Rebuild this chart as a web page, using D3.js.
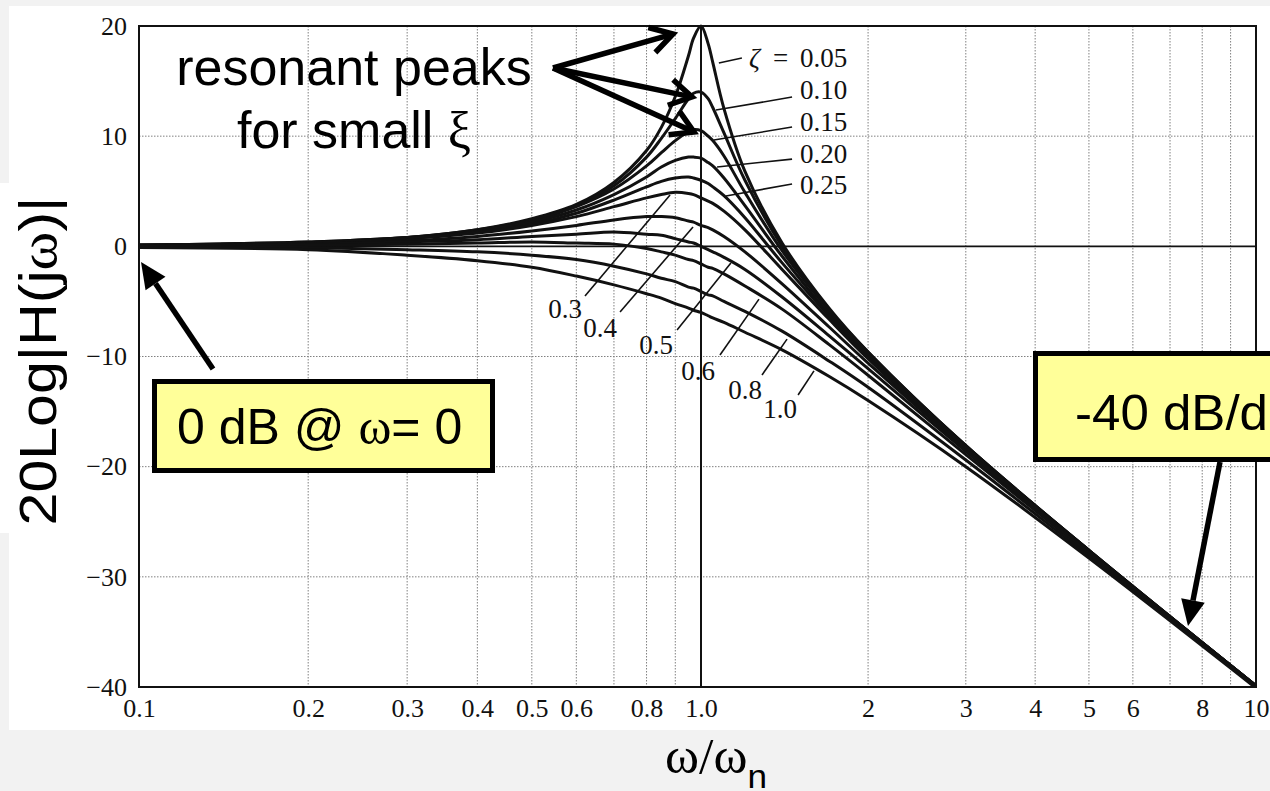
<!DOCTYPE html>
<html>
<head>
<meta charset="utf-8">
<script src="https://cdn.jsdelivr.net/npm/d3@7"></script>
<style>
  html, body { margin: 0; padding: 0; background: #f2f2f2; }
  svg { display: block; }
</style>
</head>
<body>
<svg id="chart"></svg>
<script>
// frequency ratio w/wn where the curves were read
const freqs = [0.1, 0.2, 0.3, 0.4, 0.5, 0.6, 0.7, 0.8, 0.85, 0.9, 0.95, 0.97, 1.0, 1.03, 1.05, 1.1, 1.2, 1.4, 1.7, 2, 3, 5, 10];

// magnitude in dB for each damping ratio
const z005 = [0.1, 0.4, 0.8, 1.5, 2.5, 3.8, 5.8, 8.7, 10.8, 13.6, 17.3, 18.9, 20.0, 18.4, 16.7, 12.5, 6.8, 0.3, -5.6, -9.6, -18.1, -27.6, -39.9];
const z010 = [0.1, 0.4, 0.8, 1.5, 2.4, 3.7, 5.5, 8.1, 9.8, 11.6, 13.4, 13.9, 14.0, 13.4, 12.6, 10.3, 6.0, 0.0, -5.7, -9.6, -18.1, -27.6, -39.9];
const z015 = [0.1, 0.3, 0.8, 1.4, 2.3, 3.6, 5.2, 7.3, 8.5, 9.6, 10.4, 10.6, 10.5, 10.0, 9.6, 8.2, 4.9, -0.4, -5.8, -9.7, -18.1, -27.6, -39.9];
const z020 = [0.1, 0.3, 0.7, 1.4, 2.2, 3.3, 4.7, 6.3, 7.2, 7.8, 8.1, 8.1, 8.0, 7.6, 7.3, 6.2, 3.7, -0.9, -6.1, -9.8, -18.2, -27.6, -39.9];
const z025 = [0.1, 0.3, 0.7, 1.3, 2.0, 3.0, 4.2, 5.4, 5.9, 6.2, 6.3, 6.2, 6.0, 5.7, 5.4, 4.6, 2.6, -1.5, -6.3, -10.0, -18.2, -27.7, -39.9];
const z030 = [0.1, 0.3, 0.7, 1.2, 1.9, 2.7, 3.6, 4.4, 4.7, 4.9, 4.8, 4.7, 4.4, 4.1, 3.9, 3.2, 1.5, -2.1, -6.6, -10.2, -18.3, -27.7, -39.9];
const z040 = [0.1, 0.2, 0.5, 0.9, 1.4, 1.9, 2.4, 2.7, 2.7, 2.6, 2.3, 2.2, 1.9, 1.7, 1.5, 0.9, -0.5, -3.4, -7.3, -10.6, -18.4, -27.7, -39.9];
const z050 = [0.0, 0.2, 0.4, 0.6, 0.9, 1.1, 1.3, 1.1, 1.0, 0.7, 0.4, 0.3, 0.0, -0.3, -0.5, -1.0, -2.1, -4.6, -8.1, -11.1, -18.6, -27.8, -40.0];
const z060 = [0.0, 0.1, 0.2, 0.3, 0.4, 0.3, 0.2, -0.2, -0.5, -0.8, -1.2, -1.3, -1.6, -1.9, -2.0, -2.5, -3.6, -5.7, -8.9, -11.7, -18.9, -27.9, -40.0];
const z080 = [0.0, -0.1, -0.3, -0.5, -0.8, -1.2, -1.8, -2.5, -2.9, -3.2, -3.7, -3.8, -4.1, -4.4, -4.5, -5.0, -5.9, -7.7, -10.4, -12.8, -19.4, -28.1, -40.0];
const z100 = [-0.1, -0.3, -0.8, -1.3, -1.9, -2.7, -3.5, -4.3, -4.7, -5.2, -5.6, -5.8, -6.0, -6.3, -6.5, -6.9, -7.8, -9.4, -11.8, -14.0, -20.0, -28.3, -40.1];

const curves = [z005, z010, z015, z020, z025, z030, z040, z050, z060, z080, z100];

const xTicks = [0.1, 0.2, 0.3, 0.4, 0.5, 0.6, 0.8, 1, 2, 3, 4, 5, 6, 8, 10];
const xTickLabels = ["0.1", "0.2", "0.3", "0.4", "0.5", "0.6", "0.8", "1.0", "2", "3", "4", "5", "6", "8", "10"];
const xGrid = [0.2, 0.3, 0.4, 0.5, 0.6, 0.7, 0.8, 0.9, 2, 3, 4, 5, 6, 7, 8, 9];
const yTicks = [20, 10, 0, -10, -20, -30, -40];
const yGrid = [10, -10, -20, -30];

// damping labels: leader line [w1, dB1, w2, dB2] and text spot [w, dB] in chart units
const upperLabels = [
  { text: "0.05", zeta: true, line: [1.077, 16.64, 1.185, 17.09], at: [1.508, 16.27] },
  { text: "0.10", line: [1.064, 12.37, 1.459, 13.55], at: [1.508, 13.37] },
  { text: "0.15", line: [1.055, 9.65, 1.459, 10.83], at: [1.508, 10.46] },
  { text: "0.20", line: [1.069, 7.20, 1.459, 7.92], at: [1.508, 7.56] },
  { text: "0.25", line: [1.109, 4.57, 1.459, 5.66], at: [1.508, 4.75] }
];
const lowerLabels = [
  { text: "0.3", line: [0.6217, -4.51, 0.8809, 4.66], at: [0.6142, -6.51] },
  { text: "0.4", line: [0.7177, -5.96, 0.9678, 1.75], at: [0.7088, -8.23] },
  { text: "0.5", line: [0.9065, -7.60, 1.132, -1.52], at: [0.8917, -9.78] },
  { text: "0.6", line: [1.082, -9.87, 1.272, -4.79], at: [1.060, -12.14] },
  { text: "0.8", line: [1.288, -11.68, 1.429, -8.42], at: [1.288, -13.86] },
  { text: "1.0", line: [1.496, -13.49, 1.598, -11.31], at: [1.489, -15.58] }
];

const W = 1270, H = 791;
const SERIF = '"Liberation Serif", "Times New Roman", serif';
const SANS = '"Liberation Sans", Arial, sans-serif';

const svg = d3.select("#chart").attr("width", W).attr("height", H);

// scanned page area
svg.append("rect").attr("x", 9).attr("y", 6).attr("width", W - 9).attr("height", 724).attr("fill", "#fff");
svg.append("rect").attr("x", 0).attr("y", 183).attr("width", 10).attr("height", 350).attr("fill", "#fff");

const x = d3.scaleLog().domain([0.1, 1, 10]).range([139, 701, 1256]);
const y = d3.scaleLinear().domain([-40, 20]).range([687, 26]);

// grid
const grid = svg.append("g").attr("stroke", "#808080").attr("stroke-width", 1).attr("stroke-dasharray", "1.5,1.5");
grid.selectAll(".vg").data(xGrid).enter().append("line")
  .attr("x1", d => x(d)).attr("x2", d => x(d))
  .attr("y1", y(20)).attr("y2", y(-40));
grid.selectAll(".hg").data(yGrid).enter().append("line")
  .attr("x1", x(0.1)).attr("x2", x(10))
  .attr("y1", d => y(d)).attr("y2", d => y(d));

svg.append("line").attr("x1", x(0.1)).attr("x2", x(10)).attr("y1", y(0)).attr("y2", y(0))
  .attr("stroke", "#111").attr("stroke-width", 1.6);
svg.append("line").attr("x1", x(1)).attr("x2", x(1)).attr("y1", y(20)).attr("y2", y(-40))
  .attr("stroke", "#111").attr("stroke-width", 2);

svg.append("clipPath").attr("id", "plot").append("rect")
  .attr("x", x(0.1)).attr("y", y(20) - 2).attr("width", x(10) - x(0.1)).attr("height", y(-40) - y(20) + 2);

const line = d3.line()
  .x((d, i) => x(freqs[i]))
  .y(d => y(d))
  .curve(d3.curveCatmullRom.alpha(0.5));

svg.append("g").attr("clip-path", "url(#plot)")
  .selectAll("path").data(curves).enter().append("path")
  .attr("d", line)
  .attr("fill", "none")
  .attr("stroke", "#111")
  .attr("stroke-width", 3);

svg.append("rect").attr("x", x(0.1)).attr("y", y(20))
  .attr("width", x(10) - x(0.1)).attr("height", y(-40) - y(20))
  .attr("fill", "none").attr("stroke", "#111").attr("stroke-width", 2);

// axes
const xAxis = svg.append("g").attr("transform", `translate(0,${y(-40)})`)
  .call(d3.axisBottom(x).tickValues(xTicks).tickFormat((d, i) => xTickLabels[i]).tickSize(0).tickPadding(12));
const yAxis = svg.append("g").attr("transform", `translate(${x(0.1)},0)`)
  .call(d3.axisLeft(y).tickValues(yTicks).tickFormat(d => d < 0 ? "\u2212" + (-d) : d).tickSize(0).tickPadding(12));
[xAxis, yAxis].forEach(g => {
  g.select(".domain").remove();
  g.attr("font-family", SERIF).attr("font-size", 26);
  g.selectAll("text").attr("fill", "#111");
});

// damping ratio labels
const lab = svg.append("g").attr("font-family", SERIF).attr("font-size", 27).attr("fill", "#111");
upperLabels.concat(lowerLabels).forEach(l => {
  lab.append("line")
    .attr("x1", x(l.line[0])).attr("y1", y(l.line[1]))
    .attr("x2", x(l.line[2])).attr("y2", y(l.line[3]))
    .attr("stroke", "#111").attr("stroke-width", 1.6);
});
upperLabels.forEach(l => {
  const t = lab.append("text").attr("x", x(l.at[0])).attr("y", y(l.at[1])).text(l.text);
  if (l.zeta) {
    lab.append("text").attr("x", x(l.at[0]) - 51).attr("y", y(l.at[1]))
      .attr("font-style", "italic").text("\u03b6");
    lab.append("text").attr("x", x(l.at[0]) - 27).attr("y", y(l.at[1]))
      .text("=");
  }
});
lowerLabels.forEach(l => {
  lab.append("text").attr("x", x(l.at[0])).attr("y", y(l.at[1]))
    .attr("text-anchor", "end").text(l.text);
});

// annotations
function arrow(x1, y1, x2, y2, open) {
  const a = Math.atan2(y2 - y1, x2 - x1);
  const len = open ? 22 : 26, hw = open ? 13 : 12;
  const bx = x2 - len * Math.cos(a), by = y2 - len * Math.sin(a);
  const px = -Math.sin(a) * hw, py = Math.cos(a) * hw;
  const g = svg.append("g").attr("stroke", "#000").attr("stroke-width", 5.5).attr("fill", "#000");
  if (open) {
    g.append("line").attr("x1", x1).attr("y1", y1).attr("x2", x2 - 3 * Math.cos(a)).attr("y2", y2 - 3 * Math.sin(a));
    g.append("polyline").attr("fill", "none").attr("stroke-linejoin", "miter")
      .attr("points", [[bx + px, by + py], [x2, y2], [bx - px, by - py]].map(p => p.join(",")).join(" "));
  } else {
    g.append("line").attr("x1", x1).attr("y1", y1).attr("x2", bx).attr("y2", by);
    g.append("polygon").attr("stroke", "none")
      .attr("points", [[bx + px, by + py], [x2, y2], [bx - px, by - py]].map(p => p.join(",")).join(" "));
  }
}

const note = svg.append("g").attr("font-family", SANS).attr("fill", "#000");
note.append("text").attr("x", 354).attr("y", 85).attr("text-anchor", "middle").attr("font-size", 52)
  .text("resonant peaks");
const t2 = note.append("text").attr("x", 354).attr("y", 148).attr("text-anchor", "middle").attr("font-size", 52);
t2.append("tspan").text("for small ");
t2.append("tspan").attr("font-family", SERIF).text("\u03be");

arrow(553, 68, 673, 34, true);
arrow(553, 68, 692, 97, true);
arrow(553, 68, 694, 132, true);

// 0 dB box
svg.append("rect").attr("x", 154.5).attr("y", 381.5).attr("width", 338).attr("height", 89)
  .attr("fill", "#ffff99").attr("stroke", "#000").attr("stroke-width", 5);
const t3 = svg.append("text").attr("x", 177).attr("y", 444).attr("font-family", SANS).attr("font-size", 50);
t3.append("tspan").text("0 dB @ ");
t3.append("tspan").attr("font-family", SERIF).text("\u03c9");
t3.append("tspan").text("= 0");
arrow(213, 369, 141, 262, false);

// slope box, running off the right edge as in the slide
svg.append("rect").attr("x", 1035.5).attr("y", 353.5).attr("width", 300).attr("height", 106)
  .attr("fill", "#ffff99").attr("stroke", "#000").attr("stroke-width", 5);
const t4 = svg.append("text").attr("font-family", SANS).attr("font-size", 50).text("-40 dB/d");
const t4len = t4.node().getComputedTextLength();
t4.text("-40 dB/dec").attr("transform", `translate(1075,430) scale(${193 / t4len},1)`);
arrow(1220, 462, 1188, 626, false);

// axis titles
const yl = svg.append("g").attr("transform", "translate(56,361) rotate(-90)")
  .append("text").attr("text-anchor", "middle").attr("font-family", SANS).attr("font-size", 52).attr("fill", "#000");
yl.append("tspan").text("20Log|H(j");
yl.append("tspan").attr("font-family", SERIF).text("\u03c9");
yl.append("tspan").text(")|");
const ylen = yl.node().getComputedTextLength();
yl.attr("transform", `scale(${329 / ylen},1)`);

const xl = svg.append("text").attr("font-family", SERIF).attr("font-size", 50).attr("fill", "#000");
xl.append("tspan").text("\u03c9/\u03c9");
xl.append("tspan").attr("font-family", SANS).attr("font-size", 34).attr("dy", 15).text("n");
const xlen = xl.node().getComputedTextLength();
xl.attr("transform", `translate(665,773) scale(${102 / xlen},1)`);
</script>
</body>
</html>
